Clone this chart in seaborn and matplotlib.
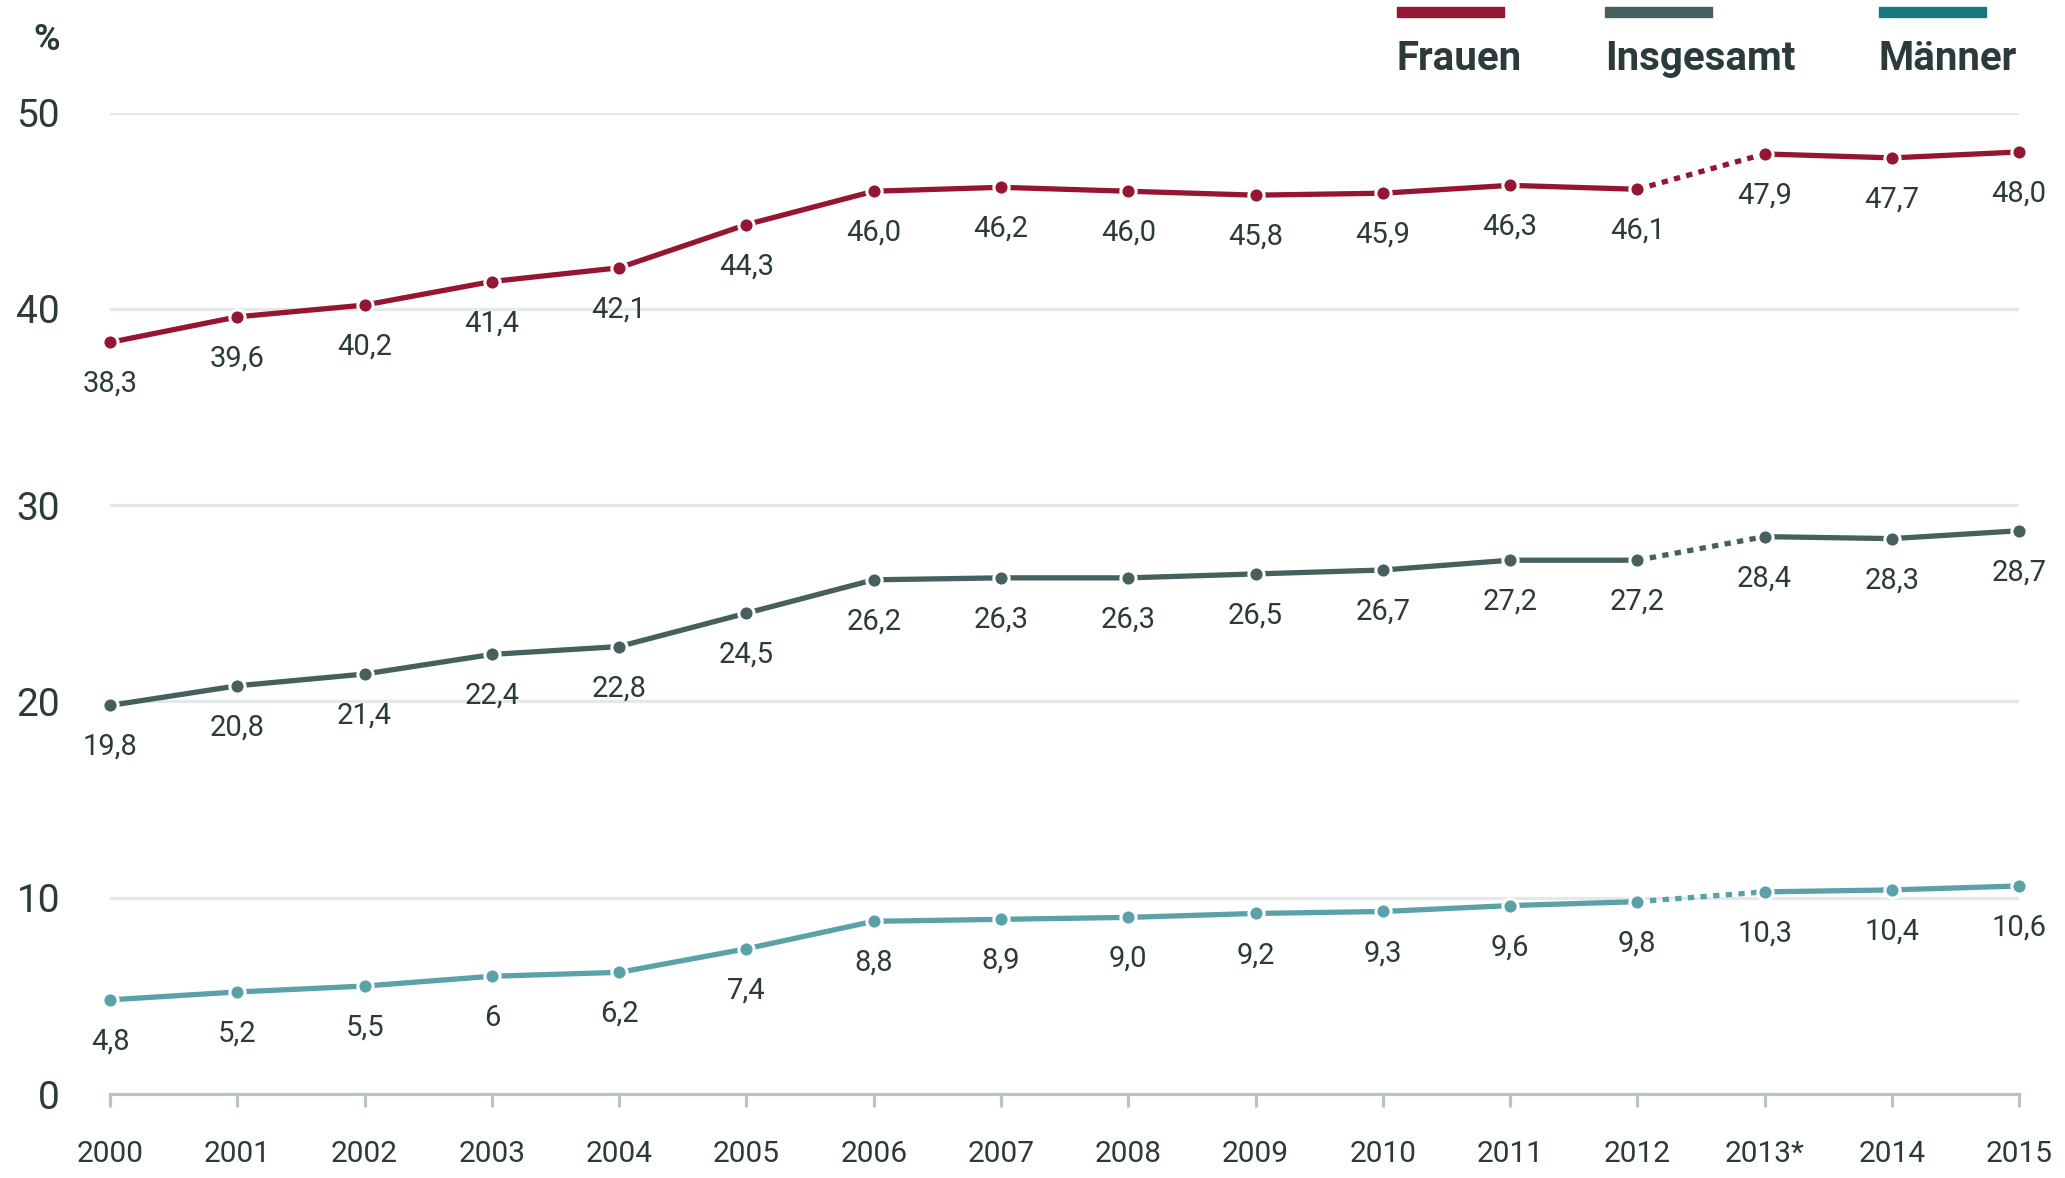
import pandas as pd
import matplotlib.pyplot as plt
import seaborn as sns
from matplotlib.patches import Rectangle

years = ["2000", "2001", "2002", "2003", "2004", "2005", "2006", "2007",
         "2008", "2009", "2010", "2011", "2012", "2013*", "2014", "2015"]
frauen = [38.3, 39.6, 40.2, 41.4, 42.1, 44.3, 46.0, 46.2, 46.0, 45.8, 45.9, 46.3, 46.1, 47.9, 47.7, 48.0]
insgesamt = [19.8, 20.8, 21.4, 22.4, 22.8, 24.5, 26.2, 26.3, 26.3, 26.5, 26.7, 27.2, 27.2, 28.4, 28.3, 28.7]
maenner = [4.8, 5.2, 5.5, 6.0, 6.2, 7.4, 8.8, 8.9, 9.0, 9.2, 9.3, 9.6, 9.8, 10.3, 10.4, 10.6]
maenner_labels = ["4,8", "5,2", "5,5", "6", "6,2", "7,4", "8,8", "8,9", "9,0", "9,2", "9,3", "9,6",
                  "9,8", "10,3", "10,4", "10,6"]
yticks = [0, 10, 20, 30, 40, 50]

sns.set_theme(style="white")
plt.rcParams['font.family'] = ['Roboto', 'DejaVu Sans']

dark = "#2b3a3a"
series = [
    ("Frauen", frauen, "#951632", "#951632", None),
    ("Insgesamt", insgesamt, "#45605f", "#45605f", None),
    ("Männer", maenner, "#5ba1a8", "#177882", maenner_labels),
]

fig = plt.figure(figsize=(20.65, 11.78), dpi=100)
ax = fig.add_axes([0.0533, 0.0713, 0.9245, 0.833])

for v in yticks[1:]:
    ax.axhline(v, color="#e3e8e8", lw=2.3, zorder=0)

for name, vals, col, legcol, labs in series:
    df = pd.DataFrame({"x": range(len(years)), "y": vals})
    # solid up to 2012, dotted 2012 -> 2013*, solid afterwards
    sns.lineplot(data=df.iloc[:13], x="x", y="y", color=col, lw=3.8, ax=ax, zorder=2)
    sns.lineplot(data=df.iloc[12:14], x="x", y="y", color=col, lw=3.8, ax=ax,
                 linestyle=(0, (1.2, 1.2)), zorder=2)
    sns.lineplot(data=df.iloc[13:], x="x", y="y", color=col, lw=3.8, ax=ax, zorder=2)
    sns.scatterplot(data=df, x="x", y="y", color=col, s=120, edgecolor="white",
                    linewidth=2.2, ax=ax, zorder=3, clip_on=False)
    if labs is None:
        labs = [f"{v:.1f}".replace(".", ",") for v in vals]
    for i, (v, t) in enumerate(zip(vals, labs)):
        ax.annotate(t, (i, v), xytext=(0, -30), textcoords="offset points",
                    ha="center", va="center", fontsize=21, color=dark)

ax.set_xlim(0, len(years) - 1)
ax.set_ylim(0, 50)
ax.set_xticks(range(len(years)))
ax.set_xticklabels(years)
ax.set_yticks(yticks)
ax.set_yticklabels([str(v) for v in yticks])
ax.set_xlabel("")
ax.set_ylabel("")
for s in ["top", "right", "left"]:
    ax.spines[s].set_visible(False)
ax.spines["bottom"].set_color("#b8c4c4")
ax.spines["bottom"].set_linewidth(2.3)
ax.tick_params(axis="x", bottom=True, direction="out", length=9, width=2.3, color="#b8c4c4",
               pad=24, labelsize=21.5, labelcolor=dark)
ax.tick_params(axis="y", left=False, length=0, pad=36, labelsize=28, labelcolor=dark)
for lab in ax.get_yticklabels():
    lab.set_horizontalalignment("right")

fig.text(0.0225, 0.966, "%", fontsize=26, fontweight="bold", color=dark, ha="center", va="center")

legend_x = [0.6765, 0.7772, 0.9099]
for (name, vals, col, legcol, labs), lx in zip(series, legend_x):
    fig.patches.append(Rectangle((lx, 0.9855), 0.052, 0.0085, transform=fig.transFigure,
                                 color=legcol, zorder=5))
    fig.text(lx, 0.950, name, fontsize=29, fontweight="bold", color=dark, ha="left", va="center")

fig.savefig("out.png", dpi=100)
